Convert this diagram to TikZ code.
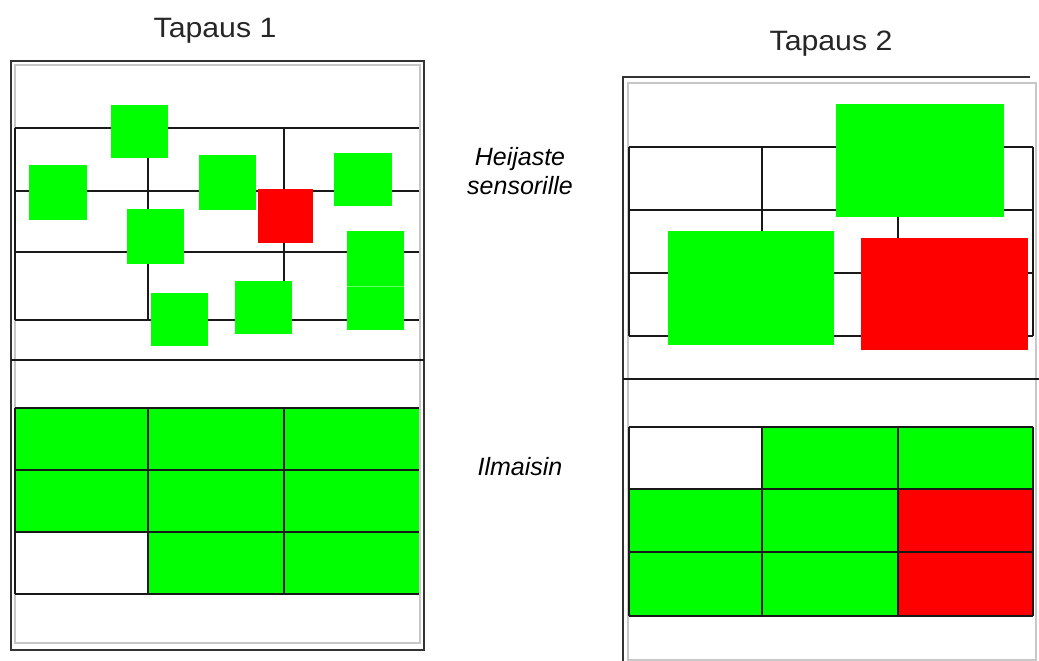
\documentclass[tikz,border=0pt]{standalone}
\usepackage{fontspec}
\setmainfont{Liberation Sans}
\definecolor{gfill}{RGB}{0,255,0}
\definecolor{rfill}{RGB}{255,0,0}
\begin{document}
\begin{tikzpicture}[x=1pt,y=-1pt,
  gridline/.style={line width=1.4pt, black!90},
  gbox/.style={fill=gfill},
  rbox/.style={fill=rfill},
  outerframe/.style={line width=2pt, black!80},
  innerframe/.style={line width=1.3pt, black!22},
  titletext/.style={font=\fontsize{28}{32}\selectfont, anchor=base, inner sep=0pt, xscale=1.08, text=black!85},
  labeltext/.style={font=\fontsize{25}{28}\selectfont\itshape, anchor=base, inner sep=0pt}]
\useasboundingbox (0,0) rectangle (1039,661);
\fill[white] (0,0) rectangle (1039,661);

% ---------- Panel 1 ----------
\draw[innerframe] (15,65) rectangle (420,643);
\draw[outerframe] (11,61) rectangle (424,650);
\draw[gridline] (11,360) -- (424,360);
% top grid
\draw[gridline] (15,128)--(419,128) (15,191)--(419,191) (15,252)--(419,252) (15,320)--(419,320)
  (15,128)--(15,320) (148,128)--(148,320) (284,128)--(284,320);
% squares
\fill[gbox] (111,105) rectangle (168,158);
\fill[gbox] (29,165) rectangle (87,220);
\fill[gbox] (199,155) rectangle (256,210);
\fill[rbox] (258,189) rectangle (313,243);
\fill[gbox] (334,153) rectangle (392,206);
\fill[gbox] (127,209) rectangle (184,264);
\fill[gbox] (347,231) rectangle (404,330);
\draw[line width=0.8pt, gfill!60!white] (347,286) -- (404,286);
\fill[gbox] (151,293) rectangle (208,346);
\fill[gbox] (235,281) rectangle (292,334);
% bottom grid
\fill[gbox] (15,408) rectangle (419,532);
\fill[gbox] (148,532) rectangle (419,594);
\draw[gridline] (15,408)--(419,408) (15,470)--(419,470) (15,532)--(419,532) (15,594)--(419,594)
  (15,408)--(15,594) (148,408)--(148,594) (284,408)--(284,594);

% ---------- Panel 2 ----------
\draw[innerframe] (628,83) rectangle (1036,660);
\draw[outerframe] (623,675) -- (623,77) -- (1030,77);
\draw[gridline] (623,379) -- (1039,379);
% top grid
\draw[gridline] (629,147)--(1033,147) (629,210)--(1033,210) (629,273)--(1033,273) (629,336)--(1033,336)
  (629,147)--(629,336) (762,147)--(762,336) (898,147)--(898,336) (1033,147)--(1033,336);
\fill[gbox] (836,104) rectangle (1004,217);
\fill[gbox] (668,231) rectangle (834,345);
\fill[rbox] (861,238) rectangle (1028,350);
% bottom grid
\fill[gbox] (762,427) rectangle (1033,489);
\fill[gbox] (629,489) rectangle (898,616);
\fill[rbox] (898,489) rectangle (1033,616);
\draw[gridline] (629,427)--(1033,427) (629,489)--(1033,489) (629,552)--(1033,552) (629,616)--(1033,616)
  (629,427)--(629,616) (762,427)--(762,616) (898,427)--(898,616) (1033,427)--(1033,616);

% ---------- Texts ----------
\node[titletext] (t1) at (215,38) {Tapaus 1};
\node[titletext] (t2) at (831,51) {Tapaus 2};
\node[labeltext] (l1) at (520,165) {Heijaste};
\node[labeltext] (l2) at (520,194) {sensorille};
\node[labeltext] (l3) at (520,475) {Ilmaisin};
\end{tikzpicture}
\end{document}
